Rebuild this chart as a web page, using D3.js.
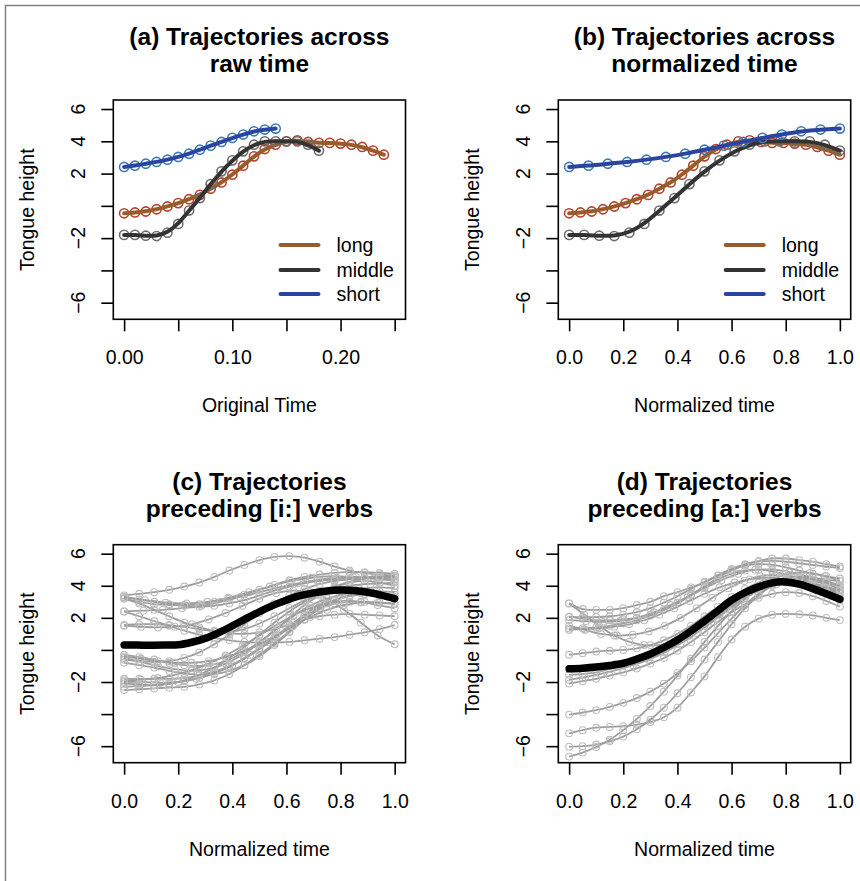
<!DOCTYPE html>
<html>
<head>
<meta charset="utf-8">
<script src="https://cdn.jsdelivr.net/npm/d3@7"></script>
<style>
  body { margin: 0; background: #fff; }
  text { font-family: "Liberation Sans", Arial, sans-serif; }
</style>
</head>
<body>
<div id="chart"></div>
<script>
// ---- data ----
const seriesNames = ["long", "middle", "short"];

// tongue height at each 10 ms sample (raw time starts at 0, step 0.01)
const longVals = [-0.46, -0.41, -0.35, -0.21, -0.04, 0.17, 0.41, 0.68, 1.06, 1.45, 1.93, 2.49, 3.07,
                  3.52, 3.79, 4.0, 4.06, 3.96, 3.9, 3.9, 3.86, 3.79, 3.65, 3.42, 3.17];
const middleVals = [-1.8, -1.8, -1.85, -1.87, -1.66, -1.12, -0.29, 0.48, 1.35, 2.14, 2.82, 3.38, 3.79,
                    4.0, 4.0, 4.0, 4.0, 3.79, 3.42];
const shortVals = [2.41, 2.49, 2.61, 2.72, 2.86, 3.03, 3.23, 3.48, 3.73, 3.96, 4.21, 4.42, 4.62, 4.73, 4.79];
const sampleStep = 0.01;

const rawTicks = [0, 0.05, 0.1, 0.15, 0.2, 0.25];
const rawTickLabels = ["0.00", "", "0.10", "", "0.20", ""];
const normTicks = [0, 0.2, 0.4, 0.6, 0.8, 1];
const normTickLabels = ["0.0", "0.2", "0.4", "0.6", "0.8", "1.0"];
const yTicks = [-6, -4, -2, 0, 2, 4, 6];
const yTickLabels = ["\u22126", "", "\u22122", "", "2", "4", "6"];

// individual trajectories before [i:] verbs (normalized time, evenly sampled)
const iTrajectories = [
  [3.4, 3.5, 3.6, 3.75, 3.95, 4.2, 4.55, 4.95, 5.3, 5.6, 5.8, 5.85, 5.75, 5.5, 5.2, 4.95, 4.8, 4.7, 4.65],
  [3.2, 3.0, 2.85, 2.8, 2.8, 2.85, 3.0, 3.2, 3.45, 3.75, 4.05, 4.35, 4.55, 4.7, 4.8, 4.85, 4.85, 4.8, 4.75],
  [3.3, 3.1, 2.95, 2.9, 3.0, 3.25, 3.6, 3.95, 4.3, 4.5, 4.6, 4.55, 4.45, 4.3],
  [2.4, 2.45, 2.5, 2.6, 2.75, 3.0, 3.3, 3.6, 3.9, 4.15, 4.35, 4.5, 4.55, 4.55, 4.5],
  [2.4, 2.1, 1.8, 1.5, 1.2, 0.95, 0.75, 0.6, 0.5, 0.45, 0.45, 0.5, 0.6, 0.7, 0.8, 0.95, 1.1, 1.3, 1.55],
  [1.55, 1.6, 1.6, 1.55, 1.45, 1.3, 1.15, 1.05, 1.0, 1.1, 1.3, 1.6, 1.9, 2.1, 2.2, 2.25, 2.2, 2.15, 2.1],
  [1.5, 1.45, 1.4, 1.45, 1.6, 1.9, 2.3, 2.75, 3.2, 3.55, 3.7, 3.6, 3.2, 2.5, 1.7, 0.9, 0.35],
  [-0.3, -0.45, -0.6, -0.8, -0.95, -1.0, -0.9, -0.6, -0.1, 0.5, 1.2, 2.0, 2.8, 3.4, 3.9, 4.2, 4.3, 4.2, 4.0],
  [-0.5, -0.75, -1.0, -1.2, -1.3, -1.2, -0.85, -0.3, 0.45, 1.3, 2.1, 2.75, 3.2, 3.45, 3.55, 3.5, 3.45],
  [-0.8, -0.95, -1.1, -1.3, -1.45, -1.55, -1.5, -1.3, -0.95, -0.4, 0.3, 1.1, 1.9, 2.6, 3.1, 3.4, 3.5, 3.4, 3.2],
  [-1.8, -1.8, -1.8, -1.8, -1.75, -1.6, -1.35, -1.0, -0.5, 0.1, 0.8, 1.5, 2.1, 2.6, 2.9, 3.0, 3.0, 2.95, 2.9],
  [-2.0, -2.0, -2.05, -2.0, -1.8, -1.45, -0.95, -0.3, 0.5, 1.35, 2.2, 2.95, 3.5, 3.8, 3.9, 3.85],
  [-2.3, -2.25, -2.2, -2.1, -1.95, -1.75, -1.45, -1.05, -0.55, 0.05, 0.7, 1.4, 2.1, 2.7, 3.1, 3.35, 3.45, 3.4, 3.3],
  [-2.5, -2.45, -2.4, -2.35, -2.3, -2.15, -1.9, -1.5, -0.95, -0.3, 0.4, 1.15, 1.9, 2.55, 3.05, 3.4, 3.6, 3.65, 3.6],
  [-1.9, -1.85, -1.75, -1.55, -1.25, -0.85, -0.35, 0.25, 0.9, 1.55, 2.15, 2.6, 2.9, 3.05, 3.0, 2.8, 2.6],
  [3.2, 2.9, 2.5, 2.1, 1.7, 1.4, 1.2, 1.15, 1.3, 1.65, 2.1, 2.6, 3.1, 3.5, 3.8, 4.0, 4.1, 4.15, 4.2],
  [-0.6, -0.7, -0.75, -0.7, -0.5, -0.15, 0.35, 0.95, 1.6, 2.3, 2.9, 3.4, 3.8, 4.1, 4.3, 4.4, 4.45, 4.45, 4.4],
  [-2.1, -2.15, -2.2, -2.1, -1.9, -1.55, -1.1, -0.5, 0.2, 0.95, 1.7, 2.4, 3.0, 3.5, 3.95, 4.25, 4.45, 4.55, 4.6],
  [-0.4, -0.55, -0.7, -0.8, -0.8, -0.7, -0.45, -0.1, 0.35, 0.9, 1.5, 2.05, 2.5, 2.8, 2.95, 2.95, 2.85],
  [3.3, 3.15, 3.0, 2.85, 2.75, 2.7, 2.75, 2.9, 3.1, 3.4, 3.7, 3.95, 4.15, 4.3, 4.4, 4.45, 4.5, 4.55, 4.6]
];
// mean trajectory, t = 0, 0.05, ..., 1
const iMean = [0.31, 0.3, 0.29, 0.3, 0.32, 0.48, 0.72, 1.08, 1.5, 1.95, 2.38, 2.78, 3.1, 3.38, 3.56,
               3.68, 3.73, 3.7, 3.6, 3.42, 3.2];

// individual trajectories before [a:] verbs
const aTrajectories = [
  [2.9, 2.55, 2.5, 2.5, 2.6, 2.8, 3.0, 3.35, 3.6, 3.9, 4.2, 4.65, 5.05, 5.35, 5.55, 5.7, 5.7, 5.6, 5.5, 5.35, 5.2],
  [2.9, 2.2, 1.5, 0.9, 0.5, 0.3, 0.3, 0.5, 0.9, 1.5, 2.2, 2.9, 3.6, 4.2, 4.6, 4.8, 4.8, 4.6, 4.3],
  [2.07, 1.95, 1.85, 1.85, 1.9, 2.0, 2.2, 2.5, 2.9, 3.4, 3.95, 4.5, 4.95, 5.3, 5.5, 5.55, 5.5, 5.4, 5.3, 5.2, 5.1],
  [1.86, 1.8, 1.75, 1.8, 2.0, 2.35, 2.8, 3.3, 3.85, 4.35, 4.75, 5.0, 5.0, 4.85, 4.6, 4.4, 4.3],
  [1.34, 1.35, 1.4, 1.5, 1.65, 1.85, 2.15, 2.5, 2.95, 3.45, 3.95, 4.4, 4.75, 4.95, 5.0, 4.9, 4.7, 4.4, 4.1, 3.8, 3.5],
  [1.5, 1.25, 1.0, 0.9, 0.95, 1.15, 1.5, 2.0, 2.6, 3.25, 3.85, 4.3, 4.6, 4.65, 4.5, 4.2, 3.9, 3.6],
  [-0.3, -0.2, -0.1, -0.05, 0.0, 0.1, 0.3, 0.6, 1.0, 1.5, 2.1, 2.7, 3.3, 3.8, 4.2, 4.4, 4.4, 4.2, 3.9, 3.5, 3.1],
  [-1.55, -1.5, -1.4, -1.2, -0.95, -0.65, -0.3, 0.1, 0.55, 1.05, 1.6, 2.2, 2.8, 3.35, 3.8, 4.1, 4.2, 4.1, 3.9, 3.6, 3.3],
  [-1.86, -1.7, -1.5, -1.25, -0.95, -0.6, -0.15, 0.4, 1.05, 1.75, 2.5, 3.2, 3.75, 4.1, 4.25, 4.2, 4.0, 3.7],
  [-2.1, -1.95, -1.8, -1.6, -1.4, -1.15, -0.85, -0.5, -0.05, 0.5, 1.1, 1.75, 2.35, 2.85, 3.25, 3.5, 3.6, 3.55, 3.35, 3.05, 2.7],
  [-4.03, -3.9, -3.75, -3.55, -3.3, -3.0, -2.6, -2.1, -1.45, -0.7, 0.15, 1.05, 1.95, 2.8, 3.5, 4.0, 4.3, 4.4, 4.3, 4.1, 3.8],
  [-5.2, -5.0, -4.85, -4.8, -4.75, -4.65, -4.5, -4.2, -3.6, -2.65, -1.65, -0.45, 0.65, 1.45, 1.95, 2.2, 2.25, 2.22, 2.15, 2.0, 1.86],
  [-6.03, -6.0, -5.9, -5.7, -5.4, -4.95, -4.35, -3.6, -2.7, -1.7, -0.6, 0.5, 1.6, 2.6, 3.4, 4.0, 4.4, 4.55, 4.5, 4.3, 4.0],
  [-6.65, -6.4, -6.05, -5.6, -5.0, -4.3, -3.5, -2.6, -1.6, -0.55, 0.5, 1.5, 2.4, 3.2, 3.8, 4.2, 4.45, 4.5, 4.4, 4.2, 3.95],
  [2.05, 2.05, 2.05, 2.1, 2.2, 2.35, 2.6, 2.95, 3.35, 3.8, 4.25, 4.65, 5.0, 5.25, 5.35, 5.3, 5.15, 4.95, 4.75, 4.6, 4.45],
  [1.25, 1.3, 1.35, 1.45, 1.6, 1.85, 2.2, 2.6, 3.05, 3.5, 3.9, 4.2, 4.4, 4.5, 4.45, 4.3, 4.1, 3.9, 3.75]
];
const aMean = [-1.18, -1.14, -1.07, -0.97, -0.83, -0.57, -0.25, 0.15, 0.62, 1.18, 1.8, 2.45, 3.1, 3.58,
               3.93, 4.18, 4.24, 4.1, 3.82, 3.5, 3.16];

const lineColors = { long: "#9a5b2b", middle: "#333333", short: "#2a44a0" };
const pointColors = { long: "#b5432d", middle: "#6e6e6e", short: "#3c7bb5" };

// ---- layout ----
const W = 860, H = 881;
const FS = 19.5;

const svg = d3.select("#chart").append("svg")
  .attr("width", W)
  .attr("height", H);

svg.append("path")
  .attr("d", "M5.5," + H + "V5.5H" + W)
  .attr("fill", "none")
  .attr("stroke", "#808080")
  .attr("stroke-width", 1.5);

const series = {
  long: longVals,
  middle: middleVals,
  short: shortVals
};

function makePanel(p) {
  const g = svg.append("g");
  const x = d3.scaleLinear().domain(p.xDomain).range([p.left, p.right]);
  const y = d3.scaleLinear().domain([-7.03, 6.56]).range([p.bottom, p.top]);

  // title
  p.title.forEach(function (t, i) {
    g.append("text")
      .attr("x", (p.left + p.right) / 2)
      .attr("y", p.top - 55 + i * 27)
      .attr("text-anchor", "middle")
      .attr("font-weight", "bold")
      .attr("font-size", 24.5)
      .text(t);
  });

  // x axis
  const xa = g.append("g")
    .attr("transform", "translate(0," + p.bottom + ")")
    .call(d3.axisBottom(x)
      .tickValues(p.xTicks)
      .tickSize(12)
      .tickPadding(19.2)
      .tickFormat(function (d, i) { return p.xLabels[i]; }));
  xa.select(".domain").remove();
  xa.selectAll("line").attr("stroke", "#000").attr("stroke-width", 1.6);
  xa.selectAll("text").attr("font-size", FS).attr("fill", "#000")
    .attr("font-family", "Liberation Sans, Arial, sans-serif");

  // y axis
  const ya = g.append("g")
    .attr("transform", "translate(" + p.left + ",0)")
    .call(d3.axisLeft(y).tickValues(yTicks).tickSize(12).tickFormat(""));
  ya.select(".domain").remove();
  ya.selectAll("line").attr("stroke", "#000").attr("stroke-width", 1.6);
  g.selectAll(".ylab")
    .data(yTicks)
    .enter().append("text")
    .attr("class", "ylab")
    .attr("transform", function (d) { return "translate(" + (p.left - 28.5) + "," + y(d) + ") rotate(-90)"; })
    .attr("text-anchor", "middle")
    .attr("font-size", FS)
    .text(function (d, i) { return yTickLabels[i]; });

  // axis titles
  g.append("text")
    .attr("x", (p.left + p.right) / 2)
    .attr("y", p.bottom + 93)
    .attr("text-anchor", "middle")
    .attr("font-size", FS)
    .text(p.xTitle);
  g.append("text")
    .attr("transform", "translate(" + (p.left - 79.5) + "," + ((p.top + p.bottom) / 2) + ") rotate(-90)")
    .attr("text-anchor", "middle")
    .attr("font-size", FS)
    .text("Tongue height");

  const plot = g.append("g");
  p.draw(plot, x, y);

  // box
  g.append("rect")
    .attr("x", p.left).attr("y", p.top)
    .attr("width", p.right - p.left).attr("height", p.bottom - p.top)
    .attr("fill", "none").attr("stroke", "#000").attr("stroke-width", 1.6);
  return { g: g, x: x, y: y };
}

function drawGroups(normalized) {
  return function (plot, x, y) {
    const smooth = d3.line().curve(d3.curveBasis).x(function (d) { return x(d[0]); }).y(function (d) { return y(d[1]); });
    seriesNames.forEach(function (name) {
      const vals = series[name];
      const pts = vals.map(function (v, i) {
        return [normalized ? i / (vals.length - 1) : i * sampleStep, v];
      });
      plot.append("g").selectAll("circle")
        .data(pts).enter().append("circle")
        .attr("cx", function (d) { return x(d[0]); })
        .attr("cy", function (d) { return y(d[1]); })
        .attr("r", 4.6)
        .attr("fill", "none")
        .attr("stroke", pointColors[name])
        .attr("stroke-width", 1.6);
      plot.append("path")
        .attr("d", smooth(pts))
        .attr("fill", "none")
        .attr("stroke", lineColors[name])
        .attr("stroke-width", 4)
        .attr("stroke-linecap", "round");
    });
  };
}

function drawTrajectories(trajs, mean) {
  return function (plot, x, y) {
    const through = d3.line().curve(d3.curveCatmullRom).x(function (d) { return x(d[0]); }).y(function (d) { return y(d[1]); });
    trajs.forEach(function (vals) {
      const pts = vals.map(function (v, i) { return [i / (vals.length - 1), v]; });
      plot.append("path")
        .attr("d", through(pts))
        .attr("fill", "none")
        .attr("stroke", "#9e9e9e")
        .attr("stroke-width", 1.8);
      plot.append("g").selectAll("circle")
        .data(pts).enter().append("circle")
        .attr("cx", function (d) { return x(d[0]); })
        .attr("cy", function (d) { return y(d[1]); })
        .attr("r", 3.4)
        .attr("fill", "none")
        .attr("stroke", "#bdbdbd")
        .attr("stroke-width", 1.1);
    });
    const mpts = mean.map(function (v, i) { return [i / (mean.length - 1), v]; });
    plot.append("path")
      .attr("d", through(mpts))
      .attr("fill", "none")
      .attr("stroke", "#000")
      .attr("stroke-width", 7.5)
      .attr("stroke-linecap", "round");
  };
}

function addLegend(panel, right) {
  const rows = [245, 270, 294];
  seriesNames.forEach(function (name, i) {
    panel.g.append("line")
      .attr("x1", right - 125).attr("x2", right - 87)
      .attr("y1", rows[i]).attr("y2", rows[i])
      .attr("stroke", lineColors[name]).attr("stroke-width", 4).attr("stroke-linecap", "round");
    panel.g.append("text")
      .attr("x", right - 69).attr("y", rows[i])
      .attr("dy", "0.35em")
      .attr("font-size", FS)
      .text(name);
  });
}

const LX = [113.3, 405.5], RX = [558.3, 850.7];
const TY = [100, 319.3], BY = [544.7, 762.7];

const pa = makePanel({
  left: LX[0], right: LX[1], top: TY[0], bottom: TY[1],
  xDomain: [-0.01, 0.26], xTicks: rawTicks, xLabels: rawTickLabels,
  title: ["(a) Trajectories across", "raw time"], xTitle: "Original Time",
  draw: drawGroups(false)
});
addLegend(pa, LX[1]);

const pb = makePanel({
  left: RX[0], right: RX[1], top: TY[0], bottom: TY[1],
  xDomain: [-0.04, 1.04], xTicks: normTicks, xLabels: normTickLabels,
  title: ["(b) Trajectories across", "normalized time"], xTitle: "Normalized time",
  draw: drawGroups(true)
});
addLegend(pb, RX[1]);

makePanel({
  left: LX[0], right: LX[1], top: BY[0], bottom: BY[1],
  xDomain: [-0.04, 1.04], xTicks: normTicks, xLabels: normTickLabels,
  title: ["(c) Trajectories", "preceding [i:] verbs"], xTitle: "Normalized time",
  draw: drawTrajectories(iTrajectories, iMean)
});

makePanel({
  left: RX[0], right: RX[1], top: BY[0], bottom: BY[1],
  xDomain: [-0.04, 1.04], xTicks: normTicks, xLabels: normTickLabels,
  title: ["(d) Trajectories", "preceding [a:] verbs"], xTitle: "Normalized time",
  draw: drawTrajectories(aTrajectories, aMean)
});
</script>
</body>
</html>
